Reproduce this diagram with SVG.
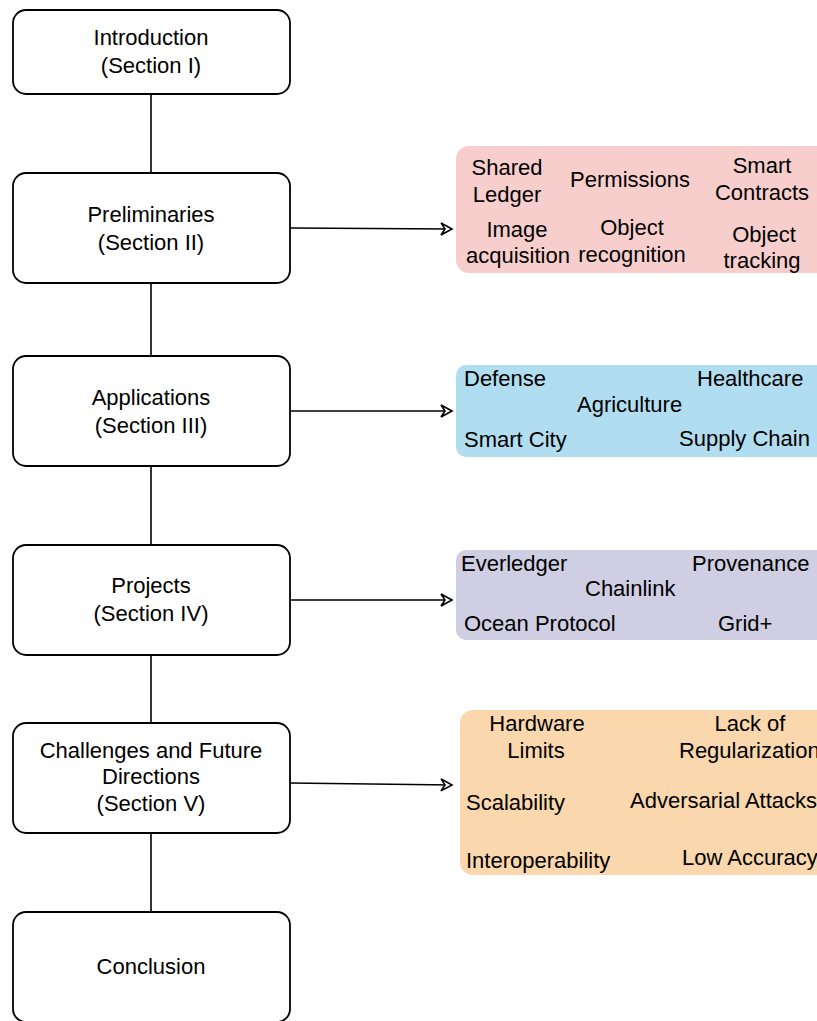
<svg xmlns="http://www.w3.org/2000/svg" width="817" height="1021" viewBox="0 0 817 1021">
<style>
text{font-family:"Liberation Sans",Arial,sans-serif;font-size:22px;fill:#000}
.c{text-anchor:middle}
.box{fill:#fff;stroke:#000;stroke-width:1.8}
.ln{fill:none;stroke:#000;stroke-width:1.6}
</style>
<defs>
<marker id="arr" markerUnits="userSpaceOnUse" markerWidth="14" markerHeight="14" refX="12" refY="7" orient="auto" overflow="visible">
<path d="M1,1 L12,7 L1,13 L5,7 Z" fill="#fff" stroke="#000" stroke-width="1.6" stroke-linejoin="miter"/>
</marker>
</defs>
<g id="connectors">
<path class="ln" d="M151,94 V173"/>
<path class="ln" d="M151,283 V356"/>
<path class="ln" d="M151,466 V545"/>
<path class="ln" d="M151,655 V723"/>
<path class="ln" d="M151,833 V912"/>
<path class="ln" d="M290,228 L452,229" marker-end="url(#arr)"/>
<path class="ln" d="M290,411 L452,411" marker-end="url(#arr)"/>
<path class="ln" d="M290,600 L452,600" marker-end="url(#arr)"/>
<path class="ln" d="M290,783 L452,785" marker-end="url(#arr)"/>
</g>
<g id="intro">
<rect class="box" x="13" y="10" width="277" height="84" rx="13"/>
<text class="c" x="151" y="45">Introduction</text>
<text class="c" x="151" y="73">(Section I)</text>
</g>
<g id="prelim">
<rect class="box" x="13" y="173" width="277" height="110" rx="13"/>
<text class="c" x="151" y="222">Preliminaries</text>
<text class="c" x="151" y="250">(Section II)</text>
</g>
<g id="apps">
<rect class="box" x="13" y="356" width="277" height="110" rx="13"/>
<text class="c" x="151" y="405">Applications</text>
<text class="c" x="151" y="433">(Section III)</text>
</g>
<g id="projects">
<rect class="box" x="13" y="545" width="277" height="110" rx="13"/>
<text class="c" x="151" y="593">Projects</text>
<text class="c" x="151" y="621">(Section IV)</text>
</g>
<g id="challenges">
<rect class="box" x="13" y="723" width="277" height="110" rx="13"/>
<text class="c" x="151" y="758">Challenges and Future</text>
<text class="c" x="151" y="784">Directions</text>
<text class="c" x="151" y="811">(Section V)</text>
</g>
<g id="conclusion">
<rect class="box" x="13" y="912" width="277" height="110" rx="13"/>
<text class="c" x="151" y="974">Conclusion</text>
</g>
<g id="prelim-topics">
<rect x="456" y="146" width="380" height="127" rx="13" fill="#f8cecc"/>
<text class="c" x="507" y="175">Shared</text>
<text class="c" x="507" y="202">Ledger</text>
<text class="c" x="630" y="187">Permissions</text>
<text class="c" x="762" y="173">Smart</text>
<text class="c" x="762" y="200">Contracts</text>
<text class="c" x="517" y="237">Image</text>
<text class="c" x="518" y="263">acquisition</text>
<text class="c" x="632" y="235">Object</text>
<text class="c" x="632" y="262">recognition</text>
<text class="c" x="764" y="242">Object</text>
<text class="c" x="762" y="268">tracking</text>
</g>
<g id="app-topics">
<rect x="456" y="365" width="380" height="92" rx="10" fill="#b1ddf0"/>
<text x="464" y="386">Defense</text>
<text x="697" y="386">Healthcare</text>
<text x="577" y="412">Agriculture</text>
<text x="464" y="447">Smart City</text>
<text x="679" y="446">Supply Chain</text>
</g>
<g id="project-topics">
<rect x="456" y="550" width="380" height="90" rx="10" fill="#d0cee2"/>
<text x="461" y="571">Everledger</text>
<text x="692" y="571">Provenance</text>
<text x="585" y="596">Chainlink</text>
<text x="464" y="631">Ocean Protocol</text>
<text x="718" y="631">Grid+</text>
</g>
<g id="challenge-topics">
<rect x="460" y="710" width="380" height="165" rx="13" fill="#fad7ac"/>
<text class="c" x="537" y="731">Hardware</text>
<text class="c" x="536" y="758">Limits</text>
<text class="c" x="750" y="731">Lack of</text>
<text x="679" y="758">Regularization</text>
<text x="466" y="810">Scalability</text>
<text x="630" y="808">Adversarial Attacks</text>
<text x="466" y="868">Interoperability</text>
<text x="682" y="865">Low Accuracy</text>
</g>
</svg>
